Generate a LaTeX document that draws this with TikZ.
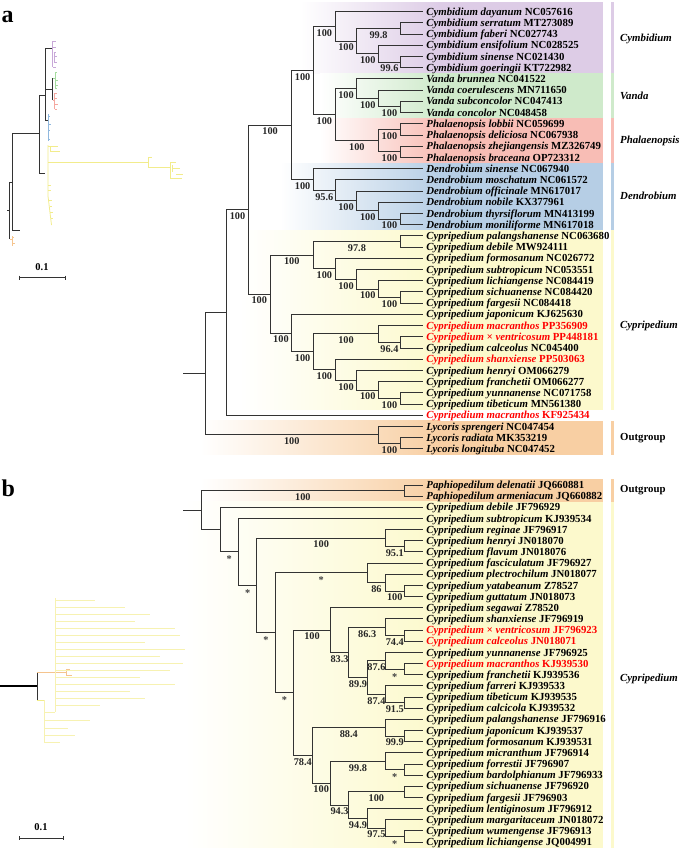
\documentclass[tikz,border=0pt]{standalone}
\usepackage{fontspec}
\setmainfont{Liberation Serif}
\definecolor{cymC}{HTML}{DDCCE6}
\definecolor{vanC}{HTML}{CFEACB}
\definecolor{phaC}{HTML}{F8BDB5}
\definecolor{denC}{HTML}{B6CEE5}
\definecolor{cypC}{HTML}{FCF9CC}
\definecolor{outC}{HTML}{F8CFA3}
\definecolor{brC}{HTML}{333333}
\definecolor{redC}{HTML}{FF0000}
\definecolor{purM}{HTML}{C8A8D8}
\definecolor{grnM}{HTML}{A6DCA0}
\definecolor{pnkM}{HTML}{F5A8A0}
\definecolor{bluM}{HTML}{90B8DE}
\definecolor{yelM}{HTML}{F2EC8C}
\definecolor{yelL}{HTML}{F7F2B2}
\definecolor{orgM}{HTML}{F5C48E}
\newcommand\tleaf[5]{\coordinate (#1) at (423,#2);\node[leaflab,#5] (t#1) at (#1) {{\itshape #3} #4};}
\newcommand\tbr[2]{\draw[branch] (#1) |- (#2);}
\newcommand\tbs[3]{\path (#1 |- #2) -- (#2) node[bslab,midway] (l#2) {#3};}
\newcommand\tbst[2]{\path (#1 |- #2) -- (#2) node[stlab,midway] (l#2) {*};}
\newcommand\gband[6]{\shade[left color=white,right color=#6] (#1,#3) rectangle (#2,#4);\fill[#6] (#5,#3) rectangle (603,#4);\fill[#6] (610.5,#3) rectangle (614,#4);}
\begin{document}
\begin{tikzpicture}[x=1pt,y=-1pt,
 branch/.style={draw=brC,line width=1pt},
 leaflab/.style={anchor=base west,inner sep=0pt,xshift=3.2pt,yshift=-3.6pt,font=\fontsize{10.8}{12}\selectfont\bfseries},
 bslab/.style={anchor=base,inner sep=0pt,yshift=-9.8pt,font=\fontsize{10.3}{12}\selectfont\bfseries,text=black!85},
 stlab/.style={anchor=base,inner sep=0pt,yshift=-11pt,font=\fontsize{10.3}{12}\selectfont\bfseries,text=black!75},
 grp/.style={anchor=west,inner sep=0pt,font=\fontsize{10.8}{12}\selectfont\bfseries},
 mini/.style={line width=0.8pt},
 thin/.style={line width=0.5pt}]
\useasboundingbox (0,0) rectangle (685,854);
% ---------- background bands ----------
\gband{300}{440}{2}{73.36}{439.7}{cymC}
\gband{320}{440}{73.36}{118.2}{439.7}{vanC}
\gband{320}{440}{118.2}{163.04}{439.7}{phaC}
\gband{280}{440}{163.04}{230.3}{439.7}{denC}
\gband{240}{440}{230.3}{409.66}{439.7}{cypC}
\gband{200}{440}{420.87}{454.5}{439.7}{outC}
\gband{200}{440}{479.4}{501.74}{439.7}{outC}
\gband{185}{440}{501.74}{847.7}{439.7}{cypC}
% ---------- panel letters ----------
\node[anchor=base west,inner sep=0pt,font=\fontsize{24}{26}\selectfont\bfseries] (pa) at (1.5,22) {a};
\node[anchor=base west,inner sep=0pt,font=\fontsize{24}{26}\selectfont\bfseries] (pb) at (1.5,496) {b};
% ---------- mini tree a ----------
\draw[mini,brC] (7,210.5) -- (9.5,210.5);
\draw[mini,brC] (9.5,182) -- (9.5,239);
\draw[mini,brC] (9.5,182) -- (12.7,182);
\draw[mini,brC] (12.7,133) -- (12.7,230) -- (20,230);
\draw[mini,brC] (12.7,133) -- (39.3,133);
\draw[mini,brC] (39.3,95) -- (39.3,173) -- (45,173);
\draw[mini,brC] (39.3,95) -- (45,95);
\draw[mini,brC] (45,48) -- (45,120) -- (48,120);
\draw[mini,brC] (45,48) -- (52.7,48);
\draw[mini,brC] (45,89) -- (52.7,89);
\draw[mini,brC] (52.7,78) -- (52.7,100);
\draw[mini,purM] (52.7,41) -- (52.7,67);
\draw[thin,purM] (52.7,41) -- (55.5,41) (52.7,47) -- (56,47) (53.5,52) -- (56,52) (53.5,56) -- (57,56) (54,62) -- (57,62) (53,67) -- (56,67) (54.5,52) -- (54.5,62);
\draw[mini,grnM] (55,72) -- (55,88);
\draw[thin,grnM] (52.7,78) -- (55,78) (55,72) -- (57,72) (55,80) -- (57.5,80) (55,85) -- (57.5,85) (55,88) -- (57,88);
\draw[mini,pnkM] (54.5,93) -- (54.5,109);
\draw[thin,pnkM] (52.7,100) -- (54.5,100) (54.5,93) -- (57,93) (54.5,98) -- (57,98) (54.5,104) -- (57.5,104) (54.5,109) -- (57,109);
\draw[mini,bluM] (48,114) -- (48,141);
\draw[thin,bluM] (48,116) -- (50,116) (48,124) -- (51,124) (48,130) -- (50,130) (48,139) -- (50,139);
\draw[mini,yelM] (48,145) -- (48,196) -- (51.5,225);
\draw[thin,yelM] (48,146) -- (58,146) (50,151) -- (60,151) (50,146) -- (50,151);
\draw[mini,yelM] (48,162) -- (148,162);
\draw[thin,yelM] (148,157) -- (148,167) (148,157) -- (152,157) (148,167) -- (170,167);
\draw[thin,yelM] (170,162) -- (170,178) (170,162) -- (176,162) (172,168) -- (180,168) (172,165) -- (172,172) (170,178) -- (182,178) (176,174) -- (183,174);
\draw[thin,yelM] (48,185) -- (51,185) (48,190) -- (51,190) (49,200) -- (51.5,200) (49.5,206) -- (52,206) (50,212) -- (52.5,212) (50.5,218) -- (53,218);
\draw[mini,orgM] (9.5,239) -- (12.5,239);
\draw[thin,orgM] (12.5,236) -- (12.5,246) (12.5,237) -- (14,237) (12.5,243) -- (14.5,243);
% scale bar a
\draw[line width=0.8pt,brC] (19,277.5) -- (65,277.5) (19,275.5) -- (19,279.5) (65,275.5) -- (65,279.5);
\node[font=\fontsize{10.5}{12}\selectfont\bfseries,inner sep=0pt] (sa) at (42,267.5) {0.1};
% ---------- mini tree b ----------
\draw[line width=1.3pt,black] (0,686) -- (37,686);
\draw[mini,brC] (37,672) -- (37,700);
\draw[mini,orgM] (37,672) -- (66,672);
\draw[thin,orgM] (66,669) -- (66,675) (66,669) -- (70,669) (66,675) -- (72,675);
\draw[mini,yelM] (37,700) -- (44,700);
\draw[thin,yelL] (44,700) -- (44,742) (44,742) -- (60,742) (44,735) -- (75,735) (44,728) -- (68,728) (44,720) -- (90,720) (44,712) -- (55,712) (55,598) -- (55,712);
\foreach \yy/\ll in {600/40,607/70,614/95,621/80,628/120,635/125,642/90,649/130,656/105,663/128,670/115,677/85,684/120,691/75,698/90,705/45}
 \draw[thin,yelL] (55,\yy) -- (55+\ll,\yy);
% scale bar b
\draw[line width=0.8pt,brC] (19,838) -- (63,838) (19,836) -- (19,840) (63,836) -- (63,840);
\node[font=\fontsize{10.5}{12}\selectfont\bfseries,inner sep=0pt] (sb) at (41,827) {0.1};
% ---------- group labels ----------
\node[grp] (gcym) at (620,39) {\itshape Cymbidium};
\node[grp] (gvan) at (620,96) {\itshape Vanda};
\node[grp] (gpha) at (620,140.6) {\itshape Phalaenopsis};
\node[grp] (gden) at (620,196) {\itshape Dendrobium};
\node[grp] (gcypa) at (620,326) {\itshape Cypripedium};
\node[grp] (gouta) at (620,437.7) {Outgroup};
\node[grp] (goutb) at (620,490.6) {Outgroup};
\node[grp] (gcypb) at (620,679) {\itshape Cypripedium};
% ---------- panel a leaves ----------
\tleaf{a1}{11.70}{Cymbidium dayanum}{NC057616}{}
\tleaf{a2}{22.91}{Cymbidium serratum}{MT273089}{}
\tleaf{a3}{34.12}{Cymbidium faberi}{NC027743}{}
\tleaf{a4}{45.33}{Cymbidium ensifolium}{NC028525}{}
\tleaf{a5}{56.54}{Cymbidium sinense}{NC021430}{}
\tleaf{a6}{67.75}{Cymbidium goeringii}{KT722982}{}
\tleaf{a7}{78.96}{Vanda brunnea}{NC041522}{}
\tleaf{a8}{90.17}{Vanda coerulescens}{MN711650}{}
\tleaf{a9}{101.38}{Vanda subconcolor}{NC047413}{}
\tleaf{a10}{112.59}{Vanda concolor}{NC048458}{}
\tleaf{a11}{123.80}{Phalaenopsis lobbii}{NC059699}{}
\tleaf{a12}{135.01}{Phalaenopsis deliciosa}{NC067938}{}
\tleaf{a13}{146.22}{Phalaenopsis zhejiangensis}{MZ326749}{}
\tleaf{a14}{157.43}{Phalaenopsis braceana}{OP723312}{}
\tleaf{a15}{168.64}{Dendrobium sinense}{NC067940}{}
\tleaf{a16}{179.85}{Dendrobium moschatum}{NC061572}{}
\tleaf{a17}{191.06}{Dendrobium officinale}{MN617017}{}
\tleaf{a18}{202.27}{Dendrobium nobile}{KX377961}{}
\tleaf{a19}{213.48}{Dendrobium thyrsiflorum}{MN413199}{}
\tleaf{a20}{224.69}{Dendrobium moniliforme}{MN617018}{}
\tleaf{a21}{235.90}{Cypripedium palangshanense}{NC063680}{}
\tleaf{a22}{247.11}{Cypripedium debile}{MW924111}{}
\tleaf{a23}{258.32}{Cypripedium formosanum}{NC026772}{}
\tleaf{a24}{269.53}{Cypripedium subtropicum}{NC053551}{}
\tleaf{a25}{280.74}{Cypripedium lichiangense}{NC084419}{}
\tleaf{a26}{291.95}{Cypripedium sichuanense}{NC084420}{}
\tleaf{a27}{303.16}{Cypripedium fargesii}{NC084418}{}
\tleaf{a28}{314.37}{Cypripedium japonicum}{KJ625630}{}
\tleaf{a29}{325.58}{Cypripedium macranthos}{PP356909}{text=redC}
\tleaf{a30}{336.79}{Cypripedium × ventricosum}{PP448181}{text=redC}
\tleaf{a31}{348.00}{Cypripedium calceolus}{NC045400}{}
\tleaf{a32}{359.21}{Cypripedium shanxiense}{PP503063}{text=redC}
\tleaf{a33}{370.42}{Cypripedium henryi}{OM066279}{}
\tleaf{a34}{381.63}{Cypripedium franchetii}{OM066277}{}
\tleaf{a35}{392.84}{Cypripedium yunnanense}{NC071758}{}
\tleaf{a36}{404.05}{Cypripedium tibeticum}{MN561380}{}
\tleaf{a37}{415.26}{Cypripedium macranthos}{KF925434}{text=redC}
\tleaf{a38}{426.47}{Lycoris sprengeri}{NC047454}{}
\tleaf{a39}{437.68}{Lycoris radiata}{MK353219}{}
\tleaf{a40}{448.89}{Lycoris longituba}{NC047452}{}
% ---------- panel a internal nodes ----------
\coordinate (n998) at (400.3,28.52);
\coordinate (n996) at (400.3,62.15);
\coordinate (ncymB) at (378.6,53.74);
\coordinate (ncymA) at (356.9,41.13);
\coordinate (ncym) at (335.2,26.42);
\coordinate (nv3) at (400.3,106.99);
\coordinate (nv2) at (378.6,98.58);
\coordinate (nv1) at (356.9,88.77);
\coordinate (np1) at (400.3,129.41);
\coordinate (np2) at (400.3,151.83);
\coordinate (np) at (378.6,140.62);
\coordinate (nVP) at (335.2,114.70);
\coordinate (nCVP) at (313.5,70.56);
\coordinate (nd5) at (400.3,219.09);
\coordinate (nd4) at (378.6,210.68);
\coordinate (nd3) at (356.9,200.87);
\coordinate (nd2) at (335.2,190.36);
\coordinate (nd1) at (313.5,179.50);
\coordinate (nCVPD) at (291.8,125.03);
\coordinate (n978) at (400.3,241.51);
\coordinate (ncE) at (400.3,297.56);
\coordinate (ncD) at (378.6,289.15);
\coordinate (ncC) at (356.9,279.34);
\coordinate (ncB) at (335.2,268.83);
\coordinate (ncA) at (313.5,255.17);
\coordinate (n964) at (400.3,342.40);
\coordinate (ncH) at (378.6,333.99);
\coordinate (ncL) at (400.3,398.45);
\coordinate (ncK) at (378.6,390.04);
\coordinate (ncJ) at (356.9,380.23);
\coordinate (ncI) at (335.2,369.72);
\coordinate (ncG) at (313.5,351.86);
\coordinate (ncF) at (291.8,333.11);
\coordinate (ncyp) at (270.1,294.14);
\coordinate (norch) at (248.4,209.59);
\coordinate (nin) at (226.7,312.43);
\coordinate (nly2) at (400.3,443.29);
\coordinate (nly) at (378.6,434.88);
\coordinate (rA) at (205.0,373.66);
\coordinate (rA0) at (183.3,373.66);
% ---------- panel a branches ----------
\draw[branch] (rA0) -- (rA);
\tbr{rA}{nin}\tbr{rA}{nly}
\tbr{nly}{a38}\tbr{nly}{nly2}\tbr{nly2}{a39}\tbr{nly2}{a40}
\tbr{nin}{norch}\tbr{nin}{a37}
\tbr{norch}{nCVPD}\tbr{norch}{ncyp}
\tbr{nCVPD}{nCVP}\tbr{nCVPD}{nd1}
\tbr{nCVP}{ncym}\tbr{nCVP}{nVP}
\tbr{ncym}{a1}\tbr{ncym}{ncymA}
\tbr{ncymA}{n998}\tbr{ncymA}{ncymB}
\tbr{n998}{a2}\tbr{n998}{a3}
\tbr{ncymB}{a4}\tbr{ncymB}{n996}
\tbr{n996}{a5}\tbr{n996}{a6}
\tbr{nVP}{nv1}\tbr{nVP}{np}
\tbr{nv1}{a7}\tbr{nv1}{nv2}\tbr{nv2}{a8}\tbr{nv2}{nv3}\tbr{nv3}{a9}\tbr{nv3}{a10}
\tbr{np}{np1}\tbr{np}{np2}\tbr{np1}{a11}\tbr{np1}{a12}\tbr{np2}{a13}\tbr{np2}{a14}
\tbr{nd1}{a15}\tbr{nd1}{nd2}\tbr{nd2}{a16}\tbr{nd2}{nd3}\tbr{nd3}{a17}\tbr{nd3}{nd4}
\tbr{nd4}{a18}\tbr{nd4}{nd5}\tbr{nd5}{a19}\tbr{nd5}{a20}
\tbr{ncyp}{ncA}\tbr{ncyp}{ncF}
\tbr{ncA}{n978}\tbr{ncA}{ncB}\tbr{n978}{a21}\tbr{n978}{a22}
\tbr{ncB}{a23}\tbr{ncB}{ncC}\tbr{ncC}{a24}\tbr{ncC}{ncD}\tbr{ncD}{a25}\tbr{ncD}{ncE}
\tbr{ncE}{a26}\tbr{ncE}{a27}
\tbr{ncF}{a28}\tbr{ncF}{ncG}
\tbr{ncG}{ncH}\tbr{ncG}{ncI}
\tbr{ncH}{a29}\tbr{ncH}{n964}\tbr{n964}{a30}\tbr{n964}{a31}
\tbr{ncI}{a32}\tbr{ncI}{ncJ}\tbr{ncJ}{a33}\tbr{ncJ}{ncK}\tbr{ncK}{a34}\tbr{ncK}{ncL}
\tbr{ncL}{a35}\tbr{ncL}{a36}
% ---------- panel a support values ----------
\tbs{nCVP}{ncym}{100}\tbs{ncym}{ncymA}{100}\tbs{ncymA}{n998}{99.8}\tbs{ncymA}{ncymB}{100}\tbs{ncymB}{n996}{99.6}
\tbs{nVP}{nv1}{100}\tbs{nv1}{nv2}{100}\tbs{nv2}{nv3}{100}
\tbs{nVP}{np}{100}\tbs{np}{np1}{100}\tbs{np}{np2}{100}
\tbs{nCVP}{nVP}{100}\tbs{nCVPD}{nCVP}{100}
\tbs{nCVPD}{nd1}{100}\tbs{nd1}{nd2}{95.6}\tbs{nd2}{nd3}{100}\tbs{nd3}{nd4}{100}\tbs{nd4}{nd5}{100}
\tbs{norch}{nCVPD}{100}
\tbs{ncA}{n978}{97.8}\tbs{ncyp}{ncA}{100}\tbs{ncA}{ncB}{100}\tbs{ncB}{ncC}{100}\tbs{ncC}{ncD}{100}\tbs{ncD}{ncE}{100}
\tbs{ncyp}{ncF}{100}\tbs{ncF}{ncG}{100}\tbs{ncG}{ncH}{100}\tbs{ncH}{n964}{96.4}
\tbs{ncG}{ncI}{100}\tbs{ncI}{ncJ}{100}\tbs{ncJ}{ncK}{100}\tbs{ncK}{ncL}{100}
\tbs{norch}{ncyp}{100}\tbs{nin}{norch}{100}
\tbs{rA}{nly}{100}\tbs{nly}{nly2}{100}
% ---------- panel b leaves ----------
\tleaf{b1}{485.00}{Paphiopedilum delenatii}{JQ660881}{}
\tleaf{b2}{496.16}{Paphiopedilum armeniacum}{JQ660882}{}
\tleaf{b3}{507.32}{Cypripedium debile}{JF796929}{}
\tleaf{b4}{518.48}{Cypripedium subtropicum}{KJ939534}{}
\tleaf{b5}{529.64}{Cypripedium reginae}{JF796917}{}
\tleaf{b6}{540.80}{Cypripedium henryi}{JN018070}{}
\tleaf{b7}{551.96}{Cypripedium flavum}{JN018076}{}
\tleaf{b8}{563.12}{Cypripedium fasciculatum}{JF796927}{}
\tleaf{b9}{574.28}{Cypripedium plectrochilum}{JN018077}{}
\tleaf{b10}{585.44}{Cypripedium yatabeanum}{Z78527}{}
\tleaf{b11}{596.60}{Cypripedium guttatum}{JN018073}{}
\tleaf{b12}{607.76}{Cypripedium segawai}{Z78520}{}
\tleaf{b13}{618.92}{Cypripedium shanxiense}{JF796919}{}
\tleaf{b14}{630.08}{Cypripedium × ventricosum}{JF796923}{text=redC}
\tleaf{b15}{641.24}{Cypripedium calceolus}{JN018071}{text=redC}
\tleaf{b16}{652.40}{Cypripedium yunnanense}{JF796925}{}
\tleaf{b17}{663.56}{Cypripedium macranthos}{KJ939530}{text=redC}
\tleaf{b18}{674.72}{Cypripedium franchetii}{KJ939536}{}
\tleaf{b19}{685.88}{Cypripedium farreri}{KJ939533}{}
\tleaf{b20}{697.04}{Cypripedium tibeticum}{KJ939535}{}
\tleaf{b21}{708.20}{Cypripedium calcicola}{KJ939532}{}
\tleaf{b22}{719.36}{Cypripedium palangshanense}{JF796916}{}
\tleaf{b23}{730.52}{Cypripedium japonicum}{KJ939537}{}
\tleaf{b24}{741.68}{Cypripedium formosanum}{KJ939531}{}
\tleaf{b25}{752.84}{Cypripedium micranthum}{JF796914}{}
\tleaf{b26}{764.00}{Cypripedium forrestii}{JF796907}{}
\tleaf{b27}{775.16}{Cypripedium bardolphianum}{JF796933}{}
\tleaf{b28}{786.32}{Cypripedium sichuanense}{JF796920}{}
\tleaf{b29}{797.48}{Cypripedium fargesii}{JF796903}{}
\tleaf{b30}{808.64}{Cypripedium lentiginosum}{JF796912}{}
\tleaf{b31}{819.80}{Cypripedium margaritaceum}{JN018072}{}
\tleaf{b32}{830.96}{Cypripedium wumengense}{JF796913}{}
\tleaf{b33}{842.12}{Cypripedium lichiangense}{JQ004991}{}
% ---------- panel b internal nodes ----------
\coordinate (npaph) at (404.0,490.58);
\coordinate (n951) at (404.0,546.38);
\coordinate (nHC) at (385.6,538.01);
\coordinate (nyg) at (404.0,591.02);
\coordinate (n86) at (385.6,582.65);
\coordinate (nFC) at (367.2,572.89);
\coordinate (n744) at (404.0,635.66);
\coordinate (n863) at (385.6,627.29);
\coordinate (nst) at (404.0,669.14);
\coordinate (n876) at (385.6,660.77);
\coordinate (n915) at (404.0,702.62);
\coordinate (n874) at (385.6,694.25);
\coordinate (n899) at (367.2,677.51);
\coordinate (n833) at (348.8,652.40);
\coordinate (nbA) at (330.4,630.08);
\coordinate (n999) at (404.0,736.10);
\coordinate (n884) at (385.6,727.73);
\coordinate (nst1) at (404.0,769.58);
\coordinate (n998b) at (385.6,761.21);
\coordinate (nR) at (404.0,791.90);
\coordinate (nst2) at (404.0,836.54);
\coordinate (n975) at (385.6,828.17);
\coordinate (n949) at (367.2,818.41);
\coordinate (n943) at (348.8,805.15);
\coordinate (nY) at (330.4,783.18);
\coordinate (nB6) at (312.0,755.45);
\coordinate (nB5) at (293.6,692.77);
\coordinate (nB4) at (275.2,632.83);
\coordinate (nB3) at (256.8,585.42);
\coordinate (nB2) at (238.4,551.95);
\coordinate (nB1) at (220.0,529.64);
\coordinate (rB) at (201.7,510.11);
\coordinate (rB0) at (183.3,510.11);
% ---------- panel b branches ----------
\draw[branch] (rB0) -- (rB);
\tbr{rB}{npaph}\tbr{rB}{nB1}\tbr{npaph}{b1}\tbr{npaph}{b2}
\tbr{nB1}{b3}\tbr{nB1}{nB2}\tbr{nB2}{b4}\tbr{nB2}{nB3}
\tbr{nB3}{nHC}\tbr{nB3}{nB4}\tbr{nHC}{b5}\tbr{nHC}{n951}\tbr{n951}{b6}\tbr{n951}{b7}
\tbr{nB4}{nFC}\tbr{nB4}{nB5}\tbr{nFC}{b8}\tbr{nFC}{n86}\tbr{n86}{b9}\tbr{n86}{nyg}\tbr{nyg}{b10}\tbr{nyg}{b11}
\tbr{nB5}{nbA}\tbr{nB5}{nB6}
\tbr{nbA}{b12}\tbr{nbA}{n833}\tbr{n833}{n863}\tbr{n833}{n899}
\tbr{n863}{b13}\tbr{n863}{n744}\tbr{n744}{b14}\tbr{n744}{b15}
\tbr{n899}{n876}\tbr{n899}{n874}\tbr{n876}{b16}\tbr{n876}{nst}\tbr{nst}{b17}\tbr{nst}{b18}
\tbr{n874}{b19}\tbr{n874}{n915}\tbr{n915}{b20}\tbr{n915}{b21}
\tbr{nB6}{n884}\tbr{nB6}{nY}\tbr{n884}{b22}\tbr{n884}{n999}\tbr{n999}{b23}\tbr{n999}{b24}
\tbr{nY}{n998b}\tbr{nY}{n943}\tbr{n998b}{b25}\tbr{n998b}{nst1}\tbr{nst1}{b26}\tbr{nst1}{b27}
\tbr{n943}{nR}\tbr{n943}{n949}\tbr{nR}{b28}\tbr{nR}{b29}
\tbr{n949}{b30}\tbr{n949}{n975}\tbr{n975}{b31}\tbr{n975}{nst2}\tbr{nst2}{b32}\tbr{nst2}{b33}
% ---------- panel b support values ----------
\tbs{rB}{npaph}{100}
\tbst{nB1}{nB2}\tbst{nB2}{nB3}\tbst{nB3}{nB4}\tbst{nB4}{nB5}
\tbs{nB3}{nHC}{100}\tbs{nHC}{n951}{95.1}
\tbst{nB4}{nFC}\tbs{nFC}{n86}{86}\tbs{n86}{nyg}{100}
\tbs{nB5}{nbA}{100}\tbs{nbA}{n833}{83.3}\tbs{n833}{n863}{86.3}\tbs{n863}{n744}{74.4}
\tbs{n833}{n899}{89.9}\tbs{n899}{n876}{87.6}\tbst{n876}{nst}\tbs{n899}{n874}{87.4}\tbs{n874}{n915}{91.5}
\tbs{nB5}{nB6}{78.4}\tbs{nB6}{n884}{88.4}\tbs{n884}{n999}{99.9}
\tbs{nB6}{nY}{100}\tbs{nY}{n998b}{99.8}\tbst{n998b}{nst1}
\tbs{nY}{n943}{94.3}\tbs{n943}{nR}{100}\tbs{n943}{n949}{94.9}\tbs{n949}{n975}{97.5}\tbst{n975}{nst2}
\end{tikzpicture}
\end{document}
